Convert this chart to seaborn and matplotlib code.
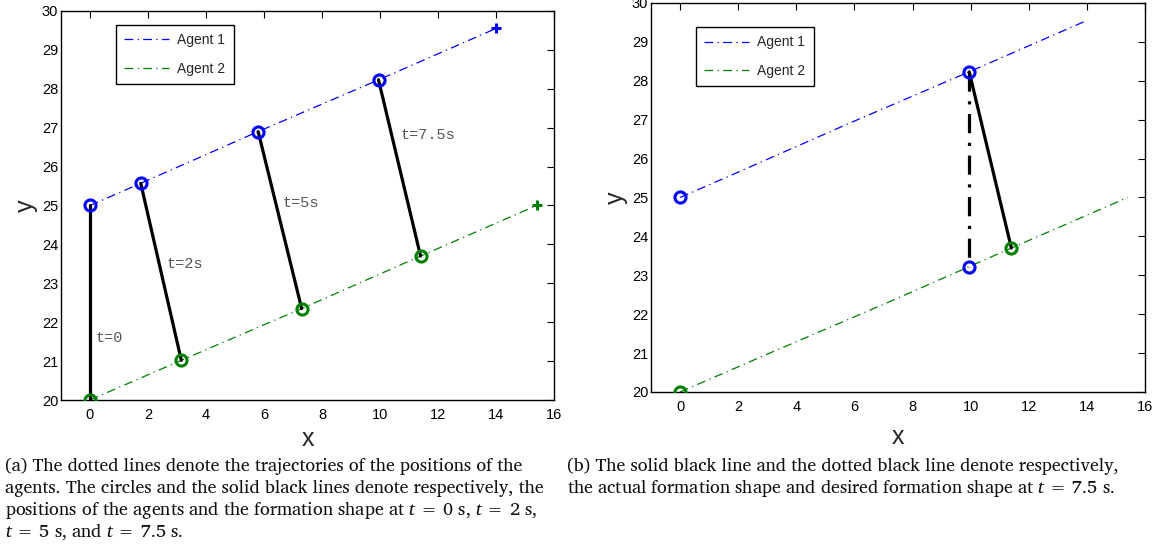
import numpy as np
import pandas as pd
import matplotlib.pyplot as plt
import seaborn as sns
from matplotlib import font_manager

# trajectories (positions)
agent1_x = [0.0, 1.75, 5.8, 9.95, 14.0]
agent1_y = [25.0, 25.57, 26.9, 28.23, 29.55]
agent2_x = [0.0, 3.15, 7.3, 11.4, 15.4]
agent2_y = [20.0, 21.02, 22.35, 23.7, 25.0]

# formation snapshots at t = 0, 2, 5, 7.5 s (index into the arrays above)
snap_idx = [0, 1, 2, 3]
snap_labels = ["t=0", "t=2s", "t=5s", "t=7.5s"]
label_x = [0.19, 2.64, 6.66, 10.72]
label_y = [21.59, 23.5, 25.06, 26.81]

# desired position of agent 1 at t = 7.5 s (panel b)
desired_x = 9.95
desired_y = 23.22

cap_a = ["(a) The dotted lines denote the trajectories of the positions of the",
         "agents. The circles and the solid black lines denote respectively, the",
         r"positions of the agents and the formation shape at $t$ = 0 s, $t$ = 2 s,",
         r"$t$ = 5 s, and $t$ = 7.5 s."]
cap_b = ["(b) The solid black line and the dotted black line denote respectively,",
         r"the actual formation shape and desired formation shape at $t$ = 7.5 s."]

BLUE = "#0000ff"
GREEN = "#008000"
DASH = (7, 3.5, 1, 3.5)

installed = {f.name for f in font_manager.fontManager.ttflist}


def pick(cands):
    for c in cands:
        if c in installed:
            return c
    return "DejaVu Sans"


AX_FONT = pick(["Liberation Sans", "Arimo", "TeX Gyre Heros"])
MONO = pick(["Liberation Mono", "Courier Prime", "DejaVu Sans Mono"])
CAP_FONT = pick(["Charis SIL", "Gelasio", "PT Serif", "Noto Serif", "DejaVu Serif"])

sns.set_style("white")
plt.rcParams["font.family"] = [AX_FONT, "DejaVu Sans"]
plt.rcParams["mathtext.fontset"] = "custom"
plt.rcParams["mathtext.it"] = CAP_FONT + ":italic"
plt.rcParams["mathtext.rm"] = CAP_FONT

fig = plt.figure(figsize=(11.64, 5.49), dpi=100)
ax_a = fig.add_axes([0.0524, 0.2714, 0.4235, 0.7086])
ax_b = fig.add_axes([0.5593, 0.2860, 0.4244, 0.7086])


def traj_df(xs, ys):
    return pd.DataFrame({"x": xs, "y": ys})


def style_axes(ax, xpad=3):
    ax.set_xlim(-1, 16)
    ax.set_ylim(20, 30)
    ax.set_xticks(np.arange(0, 17, 2))
    ax.set_yticks(np.arange(20, 31, 1))
    ax.tick_params(direction="in", top=True, right=True, length=5, width=0.8,
                   labelsize=10.5, colors="black")
    ax.tick_params(axis="y", pad=2)
    ax.tick_params(axis="x", pad=6)
    for s in ax.spines.values():
        s.set_color("black")
        s.set_linewidth(1.0)
    ax.set_xlabel("x", fontsize=18, labelpad=xpad)
    ax.set_ylabel("y", fontsize=18, labelpad=3)


def line(ax, xs, ys, **kw):
    sns.lineplot(data=traj_df(xs, ys), x="x", y="y", sort=False, estimator=None,
                 ax=ax, **kw)
    return ax.get_lines()[-1]


def draw_traj(ax, ends):
    line(ax, agent1_x, agent1_y, color=BLUE, lw=0.9, label="Agent 1").set_dashes(DASH)
    line(ax, agent2_x, agent2_y, color=GREEN, lw=0.9, label="Agent 2").set_dashes(DASH)
    if ends:
        ax.plot(agent1_x[-1], agent1_y[-1], "+", color=BLUE, ms=7, mew=2.2)
        ax.plot(agent2_x[-1], agent2_y[-1], "+", color=GREEN, ms=7, mew=2.2)


def circle(ax, x, y, c):
    ax.plot(x, y, "o", ms=8, mfc="none", mec=c, mew=2.2, zorder=5)


def legend(ax, anchor):
    leg = ax.legend(loc="upper left", bbox_to_anchor=anchor, fontsize=10,
                    handlelength=3.2, handletextpad=0.6, borderpad=0.6,
                    labelspacing=1.05, borderaxespad=0,
                    fancybox=False, framealpha=1, edgecolor="black")
    leg.get_frame().set_linewidth(1.0)
    for h in leg.get_lines():
        h.set_dashes(DASH)


# panel (a)
draw_traj(ax_a, ends=True)
for i, lab, tx, ty in zip(snap_idx, snap_labels, label_x, label_y):
    line(ax_a, [agent1_x[i], agent2_x[i]], [agent1_y[i], agent2_y[i]], color="black", lw=2.3)
    circle(ax_a, agent1_x[i], agent1_y[i], BLUE)
    circle(ax_a, agent2_x[i], agent2_y[i], GREEN)
    ax_a.text(tx, ty, lab, family=MONO, fontsize=11, color="#555555", va="center")
style_axes(ax_a)
legend(ax_a, (0.1116, 0.964))

# panel (b)
draw_traj(ax_b, ends=False)
k = snap_idx[-1]
line(ax_b, [agent1_x[k], desired_x], [agent1_y[k], desired_y],
     color="black", lw=2.3).set_dashes((6, 3, 1, 3))
line(ax_b, [agent1_x[k], agent2_x[k]], [agent1_y[k], agent2_y[k]], color="black", lw=2.3)
circle(ax_b, agent1_x[0], agent1_y[0], BLUE)
circle(ax_b, agent2_x[0], agent2_y[0], GREEN)
circle(ax_b, agent1_x[k], agent1_y[k], BLUE)
circle(ax_b, desired_x, desired_y, BLUE)
circle(ax_b, agent2_x[k], agent2_y[k], GREEN)
style_axes(ax_b, xpad=8)
legend(ax_b, (0.091, 0.938))

# captions: size chosen so the widest left line spans about what it does in the reference
renderer = fig.canvas.get_renderer()
probe = fig.text(0, 0, cap_a[1], family=CAP_FONT, fontsize=12)
w = probe.get_window_extent(renderer).width
probe.remove()
cap_size = 12 * 541 / w
for j, txt in enumerate(cap_a):
    fig.text(5 / 1164, 1 - (471 + 22 * j) / 549, txt, family=CAP_FONT,
             fontsize=cap_size, va="baseline", color="#111111")
for j, txt in enumerate(cap_b):
    fig.text(567 / 1164, 1 - (471 + 22 * j) / 549, txt, family=CAP_FONT,
             fontsize=cap_size, va="baseline", color="#111111")

fig.savefig("out.png", dpi=100)
